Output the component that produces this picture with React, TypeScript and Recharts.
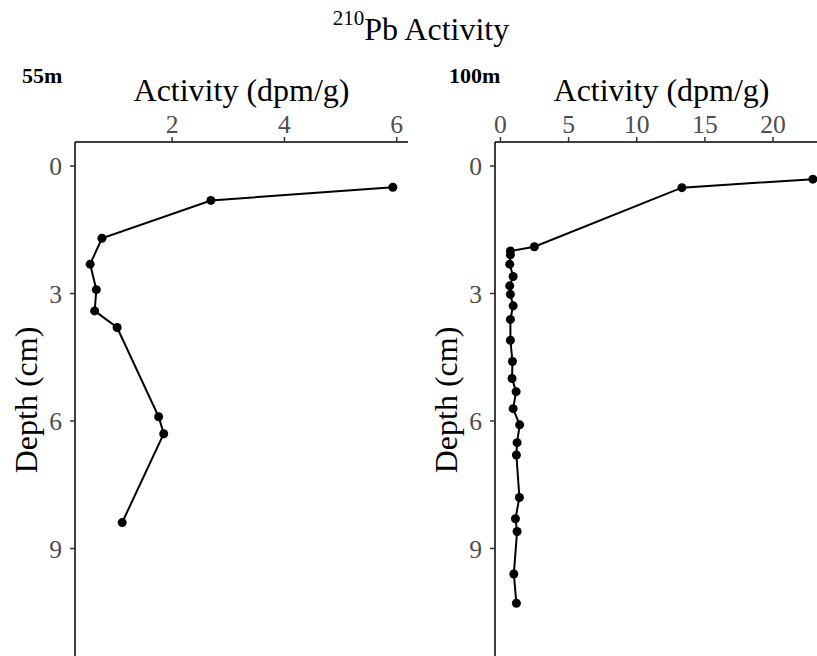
import React from 'react';
import { ScatterChart, Scatter, XAxis, YAxis, Label } from 'recharts';

// 210Pb activity profiles at two stations
const depth55m = [0.5, 0.81, 1.7, 2.31, 2.91, 3.41, 3.8, 5.9, 6.3, 8.39];
const activity55m = [5.93, 2.69, 0.75, 0.54, 0.65, 0.62, 1.02, 1.76, 1.85, 1.11];

const depth100m = [
  0.31, 0.51, 1.9, 2.0, 2.09, 2.31, 2.6, 2.82, 3.02, 3.29, 3.61, 4.1, 4.6, 5.0, 5.31,
  5.71, 6.09, 6.51, 6.8, 7.8, 8.3, 8.6, 9.6, 10.29,
];
const activity100m = [
  22.92, 13.31, 2.49, 0.73, 0.73, 0.68, 0.93, 0.68, 0.73, 0.93, 0.73, 0.73, 0.88, 0.85,
  1.15, 0.93, 1.41, 1.22, 1.17, 1.39, 1.1, 1.22, 0.98, 1.17,
];

const ticks55m = [2, 4, 6];
const ticks100m = [0, 5, 10, 15, 20];
const depthTicks = [0, 3, 6, 9];

const FONT = '"Liberation Serif", "Times New Roman", serif';
const TICK_COLOR = '#4D4D4D';

type Pt = { activity: number; depth: number };
const toPoints = (depth: number[], act: number[]): Pt[] =>
  depth.map((d, i) => ({ depth: d, activity: act[i] }));

const Dot = (props: any) => {
  const { cx, cy } = props;
  if (cx == null || cy == null) return null;
  return <circle cx={cx} cy={cy} r={4.5} fill="#000" />;
};

const DepthLabel = (props: any) => {
  const vb = props.viewBox || {};
  const x = 37;
  const y = vb.y + vb.height / 2 + 1;
  return (
    <text
      x={x}
      y={y}
      transform={`rotate(-90, ${x}, ${y})`}
      textAnchor="middle"
      fontFamily={FONT}
      fontSize={32}
      fill="#000"
    >
      Depth (cm)
    </text>
  );
};

function Panel(props: {
  data: Pt[];
  xDomain: [number, number];
  xTicks: number[];
}) {
  const { data, xDomain, xTicks } = props;
  return (
    <ScatterChart
      width={420}
      height={656}
      margin={{ top: 102, right: 12, bottom: 0, left: 15 }}
    >
      <XAxis
        type="number"
        dataKey="activity"
        orientation="top"
        domain={xDomain}
        ticks={xTicks}
        allowDataOverflow
        height={40}
        tickSize={5}
        tickMargin={4}
        axisLine={{ stroke: '#000', strokeWidth: 1.5 }}
        tickLine={{ stroke: '#333', strokeWidth: 1.5 }}
        tick={{ fill: TICK_COLOR, fontSize: 25.6, fontFamily: FONT }}
      >
        <Label
          value="Activity (dpm/g)"
          position="top"
          offset={1}
          style={{ fontFamily: FONT, fontSize: 32, fill: '#000' }}
        />
      </XAxis>
      <YAxis
        type="number"
        dataKey="depth"
        reversed
        domain={[-0.565, 11.53]}
        ticks={depthTicks}
        allowDataOverflow
        width={60}
        tickSize={5}
        tickMargin={8}
        axisLine={{ stroke: '#000', strokeWidth: 1.5 }}
        tickLine={{ stroke: '#333', strokeWidth: 1.5 }}
        tick={{ fill: TICK_COLOR, fontSize: 25.6, fontFamily: FONT }}
      >
        <Label content={DepthLabel} />
      </YAxis>
      <Scatter
        data={data}
        line={{ stroke: '#000', strokeWidth: 2 }}
        lineType="joint"
        shape={Dot}
        isAnimationActive={false}
      />
    </ScatterChart>
  );
}

export default function App() {
  return (
    <div
      style={{
        position: 'fixed',
        left: 0,
        top: 0,
        width: 817,
        height: 656,
        overflow: 'hidden',
        background: '#fff',
      }}
    >
      <div style={{ position: 'absolute', left: 0, top: 0 }}>
        <Panel data={toPoints(depth55m, activity55m)} xDomain={[0.27, 6.2]} xTicks={ticks55m} />
      </div>
      <div style={{ position: 'absolute', left: 420, top: 0 }}>
        <Panel data={toPoints(depth100m, activity100m)} xDomain={[-0.4, 24.03]} xTicks={ticks100m} />
      </div>
      <svg
        width={817}
        height={100}
        style={{ position: 'absolute', left: 0, top: 0, pointerEvents: 'none' }}
      >
        <text x={421} y={40} textAnchor="middle" fontFamily={FONT} fill="#000">
          <tspan fontSize={21} dy={-15}>210</tspan>
          <tspan fontSize={32} dy={15}>Pb Activity</tspan>
        </text>
        <text x={22} y={83} fontFamily={FONT} fontWeight="bold" fontSize={22} fill="#000">
          55m
        </text>
        <text x={449} y={83} fontFamily={FONT} fontWeight="bold" fontSize={22} fill="#000">
          100m
        </text>
      </svg>
    </div>
  );
}
